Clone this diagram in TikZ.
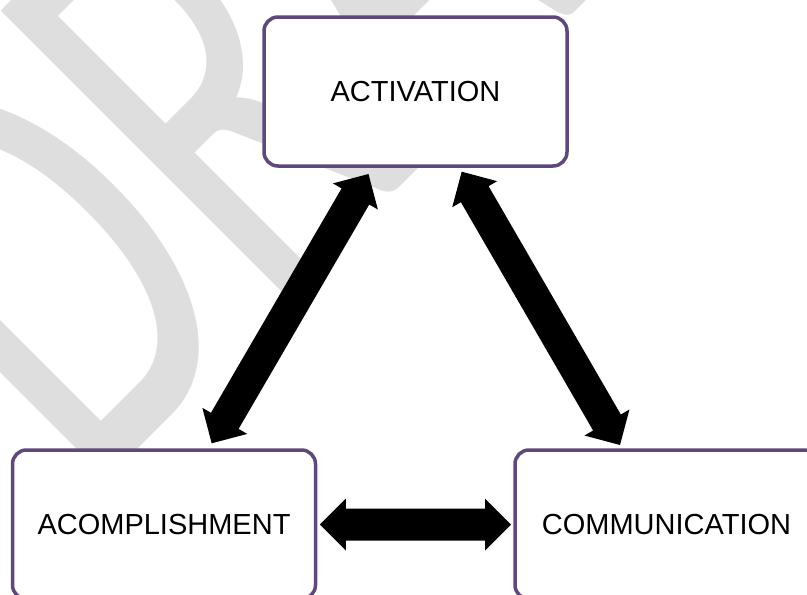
\documentclass[tikz,border=0pt]{standalone}
\usepackage{fontspec}
\setmainfont{Liberation Sans}
\newfontfamily\wmfont{Carlito}
\usetikzlibrary{calc}
\definecolor{boxline}{RGB}{95,73,122}
\definecolor{wm}{RGB}{222,222,222}
\tikzset{
  stage/.style={draw=boxline, line width=3.5pt, fill=white, rounded corners=14pt,
    minimum width=303pt, minimum height=149pt, inner sep=0pt, outer sep=0pt,
    font=\fontsize{29}{35}\selectfont},
  blockarrow/.style={fill=black, draw=none},
  watermark/.style={text=wm, inner sep=0pt, anchor=base west,
    font=\fontsize{414}{414}\wmfont}
}
\newcommand\dblarrow[2]{%
  \coordinate (h1) at ($(#1)!26pt!(#2)$);
  \coordinate (h2) at ($(#2)!26pt!(#1)$);
  \fill[blockarrow] (#1) -- ($(h1)!26pt!90:(#2)$) -- ($(h1)!16pt!90:(#2)$)
    -- ($(h2)!16pt!-90:(#1)$) -- ($(h2)!26pt!-90:(#1)$) -- (#2)
    -- ($(h2)!26pt!90:(#1)$) -- ($(h2)!16pt!90:(#1)$)
    -- ($(h1)!16pt!-90:(#2)$) -- ($(h1)!26pt!-90:(#2)$) -- cycle;
}
\begin{document}
\begin{tikzpicture}[x=1pt, y=-1pt]
  \useasboundingbox (0,0) rectangle (807,595);
  \clip (0,0) rectangle (807,595);
  \fill[white] (0,0) rectangle (807,595);
  % watermark
  \node[watermark, rotate=45, yscale=1.53] (wm) at (87,500) {DRAFT};
  % boxes
  \node[stage] (act) at (415.5,91.5) {ACTIVATION};
  \node[stage] (acc) at (164,524.5) {ACOMPLISHMENT};
  \node[stage] (com) at (666.5,524.5) {COMMUNICATION};
  % arrow end points
  \coordinate (la) at ($(act.south)+(-47,8)$);
  \coordinate (lb) at ($(acc.north)+(47.7,-6.7)$);
  \coordinate (ra) at ($(act.south)+(46.2,5.7)$);
  \coordinate (rb) at ($(com.north)+(-46.5,-5)$);
  \coordinate (ha) at ($(acc.east)+(4.3,0)$);
  \coordinate (hb) at ($(com.west)+(-4,0)$);
  \dblarrow{lb}{la}
  \dblarrow{ra}{rb}
  \dblarrow{ha}{hb}
\end{tikzpicture}
\end{document}
